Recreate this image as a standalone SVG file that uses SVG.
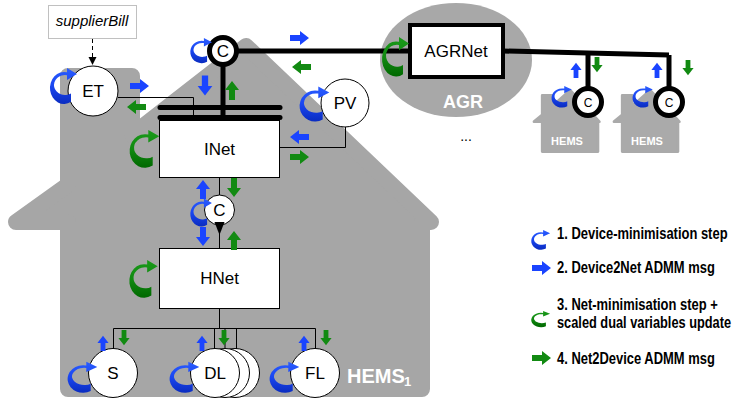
<svg xmlns="http://www.w3.org/2000/svg" width="735" height="399" viewBox="0 0 735 399">
<style>
text{font-family:"Liberation Sans",Arial,sans-serif;}
.lbl{font-size:17px;fill:#000;text-anchor:middle;}
.node{fill:#fff;stroke:#000;stroke-width:1;}
.thick{fill:#fff;stroke:#000;stroke-width:5;}
.ln{fill:none;stroke:#000;stroke-width:1;}
.tk{fill:none;stroke:#000;stroke-width:5;stroke-linejoin:round;}
.bar{fill:none;stroke:#000;stroke-width:5;stroke-linecap:round;}
.b{fill:#1a44ff;}
.g{fill:#128a12;}
.cb{fill:url(#gb);}
.cg{fill:url(#gg);}
.leg{font-size:16px;font-weight:bold;fill:#000;}
.wt{fill:#fff;font-weight:bold;}
</style>
<defs>
<linearGradient id="gb" x1="0" y1="0" x2="0" y2="1"><stop offset="0" stop-color="#2a5cff"/><stop offset="0.5" stop-color="#1a46f0"/><stop offset="1" stop-color="#0a2cc0"/></linearGradient>
<linearGradient id="gg" x1="0" y1="0" x2="0" y2="1"><stop offset="0" stop-color="#1a9a1a"/><stop offset="0.5" stop-color="#128a12"/><stop offset="1" stop-color="#006800"/></linearGradient>
<path id="arr" d="M-10,-3H0V-7L9,0L0,7V3H-10Z"/>
<path id="curl" d="M7,13.86A14,16 0 1 1 3,-15.63L3,-20L13,-14L3,-8L3,-12.83A11,10 0 1 0 7,5.38Z"/>
<path id="house" d="M68,76H132V134.8L246,46L431,222H422V389H68V222H16L68,184.8Z"/>
<marker id="ah" viewBox="0 0 10 10" refX="10" refY="5" markerWidth="8" markerHeight="10" markerUnits="userSpaceOnUse" orient="auto"><path d="M0,0L10,5L0,10Z" fill="#000"/></marker>
</defs>

<g id="background">
<use href="#house" fill="#a6a6a6" stroke="#a6a6a6" stroke-width="16" stroke-linejoin="round"/>
<text class="wt" x="347" y="383" font-size="20">HEMS</text>
<text class="wt" x="404" y="386" font-size="13">1</text>
<ellipse cx="456" cy="60" rx="76" ry="57" fill="#a8a8a8"/>
<text class="wt" x="463" y="108" font-size="18" text-anchor="middle">AGR</text>
<text x="466" y="141" font-size="14" text-anchor="middle">...</text>
</g>

<g id="hems2">
<use href="#house" transform="translate(531.37,81.94) scale(0.158,0.179)" fill="#aaaaaa" stroke="#aaaaaa" stroke-width="16" stroke-linejoin="round"/>
<text class="wt" x="567" y="145" font-size="11" text-anchor="middle">HEMS</text>
</g>
<g id="hems3">
<use href="#house" transform="translate(611.37,81.94) scale(0.158,0.179)" fill="#aaaaaa" stroke="#aaaaaa" stroke-width="16" stroke-linejoin="round"/>
<text class="wt" x="647" y="145" font-size="11" text-anchor="middle">HEMS</text>
</g>

<g id="supplierBill">
<rect x="48.5" y="5.5" width="88" height="33" fill="#fff" stroke="#c0c0c0"/>
<text x="92" y="26" font-size="15" font-style="italic" text-anchor="middle">supplierBill</text>
</g>
<g id="ET"><circle class="node" cx="93" cy="91" r="25"/><text class="lbl" x="93" y="97">ET</text></g>
<g id="C_top"><circle class="thick" cx="223" cy="51" r="13.5"/><text class="lbl" x="223" y="57">C</text></g>
<g id="INet"><rect class="node" x="159.5" y="120.5" width="120" height="57"/><text class="lbl" x="219.5" y="155">INet</text></g>
<g id="PV"><circle class="node" cx="345" cy="103" r="24"/><text class="lbl" x="345" y="109">PV</text></g>
<g id="AGRNet"><rect x="410" y="25" width="93" height="52" fill="#fff" stroke="#000" stroke-width="4"/><text class="lbl" x="456" y="57" font-size="17.5">AGRNet</text></g>
<g id="C_hems2"><circle class="thick" cx="588" cy="102" r="13.5"/><text x="588" y="106.5" font-size="12" text-anchor="middle">C</text></g>
<g id="C_hems3"><circle class="thick" cx="669" cy="102" r="13.5"/><text x="669" y="106.5" font-size="12" text-anchor="middle">C</text></g>
<g id="C_mid"><circle class="node" cx="219.5" cy="210" r="15"/><text class="lbl" x="219.5" y="216">C</text></g>
<g id="HNet"><rect class="node" x="159.5" y="248.5" width="120" height="60"/><text class="lbl" x="219.5" y="284">HNet</text></g>
<g id="S"><circle class="node" cx="113" cy="373" r="24.5"/><text class="lbl" x="113" y="379">S</text></g>
<g id="DL"><circle class="node" cx="235" cy="373" r="24.5"/><circle class="node" cx="225" cy="373" r="24.5"/><circle class="node" cx="215" cy="373" r="24.5"/><text class="lbl" x="215" y="379">DL</text></g>
<g id="FL"><circle class="node" cx="315" cy="373" r="24.5"/><text class="lbl" x="315" y="379">FL</text></g>

<g id="connectors">
<line x1="92.5" y1="39" x2="92.5" y2="65" stroke="#000" stroke-dasharray="4 3" marker-end="url(#ah)"/>
<polyline class="ln" points="118,97.5 193.5,97.5 193.5,117"/>
<line class="tk" x1="223" y1="64" x2="223" y2="118"/>
<line class="bar" x1="160" y1="107.5" x2="280" y2="107.5"/>
<line class="bar" x1="160" y1="117.5" x2="280" y2="117.5"/>
<polyline class="ln" points="345.5,127 345.5,147.5 280,147.5"/>
<line class="tk" x1="236" y1="51" x2="410" y2="51"/>
<polyline class="tk" points="503,51 588,53 669,55"/>
<line class="tk" x1="588" y1="53" x2="588" y2="89"/>
<line class="tk" x1="669" y1="55" x2="669" y2="89"/>
<line class="ln" x1="219.5" y1="178" x2="219.5" y2="195"/>
<line class="ln" x1="219.5" y1="225" x2="219.5" y2="248"/>
<path d="M214.5,222H224.5L219.5,235Z" fill="#000"/>
<polyline class="ln" points="219.5,309 219.5,328.5"/>
<polyline class="ln" points="113.5,348.5 113.5,328.5 315.5,328.5 315.5,348.5"/>
<line class="ln" x1="214.5" y1="328.5" x2="214.5" y2="348.5"/>
<line class="ln" x1="225" y1="328.5" x2="225" y2="348.5"/>
<line class="ln" x1="236.5" y1="328.5" x2="236.5" y2="349"/>
</g>

<g id="steps">
<use href="#curl" class="cb" transform="translate(64,88)"/>
<use href="#curl" class="cb" transform="translate(201.5,52) scale(0.8,0.7)"/>
<use href="#curl" class="cg" transform="translate(145,151) scale(1.1,1.05)"/>
<use href="#curl" class="cb" transform="translate(315,106) scale(1.1,0.97)"/>
<use href="#curl" class="cg" transform="translate(396,59) scale(1,1.1)"/>
<use href="#curl" class="cb" transform="translate(201.5,214) scale(0.8,0.78)"/>
<use href="#curl" class="cg" transform="translate(144,281) scale(1.05,1.05)"/>
<use href="#curl" class="cb" transform="translate(83,379) scale(1.1,0.86)"/>
<use href="#curl" class="cb" transform="translate(185,379) scale(1.1,0.86)"/>
<use href="#curl" class="cb" transform="translate(285,379) scale(1.1,0.86)"/>
<use href="#curl" class="cb" transform="translate(562,98) scale(0.75,0.6)"/>
<use href="#curl" class="cb" transform="translate(643,98) scale(0.75,0.6)"/>
</g>

<g id="messages">
<use href="#arr" class="b" transform="translate(140,86)"/>
<use href="#arr" class="b" transform="translate(205,86) rotate(90) scale(1.05)"/>
<use href="#arr" class="b" transform="translate(300,38)"/>
<use href="#arr" class="b" transform="translate(299,137) rotate(180)"/>
<use href="#arr" class="b" transform="translate(203,189) rotate(-90)"/>
<use href="#arr" class="b" transform="translate(203,237) rotate(90)"/>
<use href="#arr" class="b" transform="translate(103,343) rotate(-90) scale(0.8)"/>
<use href="#arr" class="b" transform="translate(202,343) rotate(-90) scale(0.8)"/>
<use href="#arr" class="b" transform="translate(304,343) rotate(-90) scale(0.8)"/>
<use href="#arr" class="b" transform="translate(576,70) rotate(-90) scale(0.8)"/>
<use href="#arr" class="b" transform="translate(657,70) rotate(-90) scale(0.8)"/>
<use href="#arr" class="g" transform="translate(136,107) rotate(180)"/>
<use href="#arr" class="g" transform="translate(232,90) rotate(-90)"/>
<use href="#arr" class="g" transform="translate(301,67) rotate(180)"/>
<use href="#arr" class="g" transform="translate(300,157)"/>
<use href="#arr" class="g" transform="translate(234,188) rotate(90)"/>
<use href="#arr" class="g" transform="translate(234,240) rotate(-90)"/>
<use href="#arr" class="g" transform="translate(124,338) rotate(90) scale(0.8)"/>
<use href="#arr" class="g" transform="translate(224,338) rotate(90) scale(0.8)"/>
<use href="#arr" class="g" transform="translate(326,338) rotate(90) scale(0.8)"/>
<use href="#arr" class="g" transform="translate(597,65) rotate(90) scale(0.8)"/>
<use href="#arr" class="g" transform="translate(688,68) rotate(90) scale(0.8)"/>
</g>

<g id="legend">
<use href="#curl" class="cb" transform="translate(541,241) scale(0.7,0.55)"/>
<text class="leg" transform="translate(557,239) scale(0.81,1)">1. Device-minimisation step</text>
<use href="#arr" class="b" transform="translate(542,268)"/>
<text class="leg" transform="translate(557,273) scale(0.81,1)">2. Device2Net ADMM msg</text>
<use href="#curl" class="cg" transform="translate(541,320) scale(0.7,0.45)"/>
<text class="leg" transform="translate(557,310) scale(0.81,1)">3. Net-minimisation step +</text>
<text class="leg" transform="translate(557,328) scale(0.8,1)">scaled dual variables update</text>
<use href="#arr" class="g" transform="translate(542,358)"/>
<text class="leg" transform="translate(557,364) scale(0.81,1)">4. Net2Device ADMM msg</text>
</g>
</svg>
